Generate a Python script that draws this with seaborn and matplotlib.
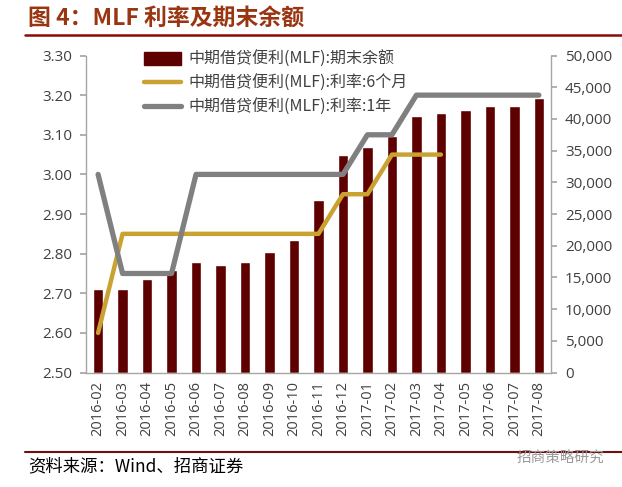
import numpy as np
import pandas as pd
import matplotlib
matplotlib.use("Agg")
import matplotlib.pyplot as plt
import matplotlib.ticker as mticker
from matplotlib.lines import Line2D
from matplotlib.patches import Patch
import seaborn as sns

sns.set_theme(style="white")
plt.rcParams["font.family"] = ["Noto Sans CJK SC", "DejaVu Sans"]

# ── data ─────────────────────────────────────────────────────────────
months = ["2016-02", "2016-03", "2016-04", "2016-05", "2016-06", "2016-07",
          "2016-08", "2016-09", "2016-10", "2016-11", "2016-12", "2017-01",
          "2017-02", "2017-03", "2017-04", "2017-05", "2017-06", "2017-07",
          "2017-08"]
balance = [13200, 13200, 14780, 16200, 17400, 17030, 17400, 18980, 20980,
           27240, 34380, 35540, 37380, 40490, 40960, 41370, 42110, 42110,
           43270]
rate_6m = [2.60, 2.85, 2.85, 2.85, 2.85, 2.85, 2.85, 2.85, 2.85, 2.85,
           2.95, 2.95, 3.05, 3.05, 3.05]
rate_1y = [3.00, 2.75, 2.75, 2.75, 3.00, 3.00, 3.00, 3.00, 3.00, 3.00,
           3.00, 3.10, 3.10, 3.20, 3.20, 3.20, 3.20, 3.20, 3.20]

lab_bar = "中期借贷便利(MLF):期末余额"
lab_6m = "中期借贷便利(MLF):利率:6个月"
lab_1y = "中期借贷便利(MLF):利率:1年"

BAR = "#5E0000"
GOLD = "#C9A232"
GREY = "#808080"
SPINE = "#A6A6A6"
TXT = "#404040"

fig = plt.figure(figsize=(6.22, 4.87), dpi=100)
ax = fig.add_axes([0.138, 0.235, 0.748, 0.651])
ax2 = ax.twinx()

# bars on the right axis
df_bar = pd.DataFrame({"month": months, "balance": balance})
sns.barplot(data=df_bar, x="month", y="balance", ax=ax2, color=BAR,
            saturation=1, width=0.42)
ax2.set_ylim(0, 50000)
ax2.yaxis.set_major_locator(mticker.MultipleLocator(5000))
ax2.yaxis.set_major_formatter(mticker.FuncFormatter(lambda v, _: f"{v:,.0f}"))
ax2.set_ylabel("")
ax2.set_xlabel("")

# rate lines on the left axis
x6 = np.arange(len(rate_6m))
x1 = np.arange(len(rate_1y))
sns.lineplot(x=x6, y=rate_6m, ax=ax, color=GOLD, linewidth=3.2, sort=False)
sns.lineplot(x=x1, y=rate_1y, ax=ax, color=GREY, linewidth=3.8, sort=False)
ax.set_ylim(2.5, 3.3)
ax.yaxis.set_major_locator(mticker.MultipleLocator(0.1))
ax.yaxis.set_major_formatter(mticker.FormatStrFormatter("%.2f"))
ax.set_xlim(-0.5, len(months) - 0.5)
ax2.set_xlim(-0.5, len(months) - 0.5)

ax.set_zorder(ax2.get_zorder() + 1)
ax.patch.set_visible(False)

# x ticks: labels at centres, tick marks at category boundaries
ax.set_xticks(np.arange(len(months)))
ax.set_xticklabels(months, rotation=90, fontsize=10.5, color=TXT,
                   family=["Open Sans", "DejaVu Sans"])
ax.set_xticks(np.arange(-0.5, len(months)), minor=True)
ax.tick_params(axis="x", which="major", length=0, pad=6)
ax.tick_params(axis="x", which="minor", length=4, color=SPINE, direction="out")
ax2.tick_params(axis="x", which="both", length=0, labelbottom=False)

ax.tick_params(axis="y", length=4, color=SPINE, labelsize=11, labelcolor=TXT,
               direction="out", pad=6)
ax2.tick_params(axis="y", length=4, color=SPINE, labelsize=11, labelcolor=TXT,
                direction="out", pad=6)
for lab in ax.get_yticklabels() + ax2.get_yticklabels():
    lab.set_family(["Open Sans", "DejaVu Sans"])

for a in (ax, ax2):
    a.grid(False)
    a.spines["top"].set_visible(False)
    for s in ("left", "right", "bottom"):
        a.spines[s].set_color(SPINE)
        a.spines[s].set_linewidth(1)
ax.spines["right"].set_visible(False)
ax2.spines["left"].set_visible(False)
ax2.spines["bottom"].set_visible(False)

handles = [Patch(facecolor=BAR, edgecolor=BAR),
           Line2D([], [], color=GOLD, linewidth=3.2),
           Line2D([], [], color=GREY, linewidth=3.8)]
ax.legend(handles, [lab_bar, lab_6m, lab_1y], loc="upper left",
          bbox_to_anchor=(0.095, 1.06), frameon=False, fontsize=11.5,
          handlelength=2.3, handleheight=0.8, labelspacing=0.42,
          handletextpad=0.45, labelcolor=TXT)

# title, rules and footer
fig.text(0.045, 0.962, "图 4：MLF 利率及期末余额", fontsize=16.5,
         fontweight="bold", color="#9A3512", va="center", ha="left")
fig.add_artist(Line2D([0.04, 1.0], [0.928, 0.928], color="#8B0A0A",
                      linewidth=1.8, transform=fig.transFigure))
fig.add_artist(Line2D([0.04, 1.0], [0.072, 0.072], color="#6E1010",
                      linewidth=1.5, transform=fig.transFigure))
fig.text(0.045, 0.043, "资料来源：Wind、招商证券", fontsize=12.5,
         color="black", va="center", ha="left")
fig.text(0.83, 0.058, "招商策略研究", fontsize=10.5, color="#9A9A9A",
         va="center", ha="left")

fig.savefig("out.png", dpi=100, facecolor="white")
